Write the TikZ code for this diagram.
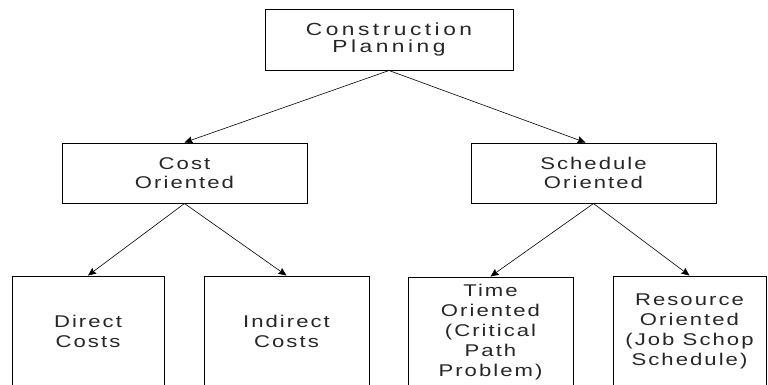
\documentclass[tikz,border=0pt]{standalone}
\usepackage{fontspec}
\setmainfont{Liberation Sans}[FakeStretch=1.3, LetterSpace=12]
\newfontfamily\planfont{Liberation Sans}[FakeStretch=1.3, LetterSpace=20]
\usetikzlibrary{arrows.meta}
\begin{document}
\begin{tikzpicture}[x=1pt, y=-1pt, >={Stealth[length=8pt, width=7pt, inset=1pt]},
  box/.style={draw, line width=1pt, align=center, inner sep=0pt, text=black!85,
    font=\fontsize{17}{19.5}\selectfont},
  leaf/.style={box, minimum height=110pt, font=\fontsize{17}{20}\selectfont}]
\useasboundingbox (0,0) rectangle (768,384);
\clip (0,0) rectangle (768,384);
% top level
\node[box, minimum width=248pt, minimum height=61pt,
  font=\planfont\fontsize{17.5}{16.5}\selectfont] (plan) at (389,39.5) {Construction\\Planning};
% second level
\node[box, minimum width=245pt, minimum height=60pt] (cost) at (184.5,173) {Cost\\Oriented};
\node[box, minimum width=245pt, minimum height=60pt] (sched) at (593.5,173) {Schedule\\Oriented};
% leaves, cut off at the bottom
\node[leaf, minimum width=152pt] (direct) at (88,331) {Direct\\Costs};
\node[leaf, minimum width=165pt] (indirect) at (286.5,331) {Indirect\\Costs};
\node[leaf, minimum width=165pt] (time) at (490.5,332) {Time\\Oriented\\(Critical\\Path\\Problem)};
\node[leaf, minimum width=153pt] (resource) at (689.5,331) {Resource\\Oriented\\(Job Schop\\Schedule)};
\draw[->, line width=0.6pt] (plan.south) -- (cost.north);
\draw[->, line width=0.6pt] (plan.south) -- ([xshift=-8pt]sched.north);
\draw[->, line width=0.6pt] (cost.south) -- (direct.north);
\draw[->, line width=0.6pt] (cost.south) -- (indirect.north);
\draw[->, line width=0.6pt] (sched.south) -- (time.north);
\draw[->, line width=0.6pt] (sched.south) -- (resource.north);
\end{tikzpicture}
\end{document}
